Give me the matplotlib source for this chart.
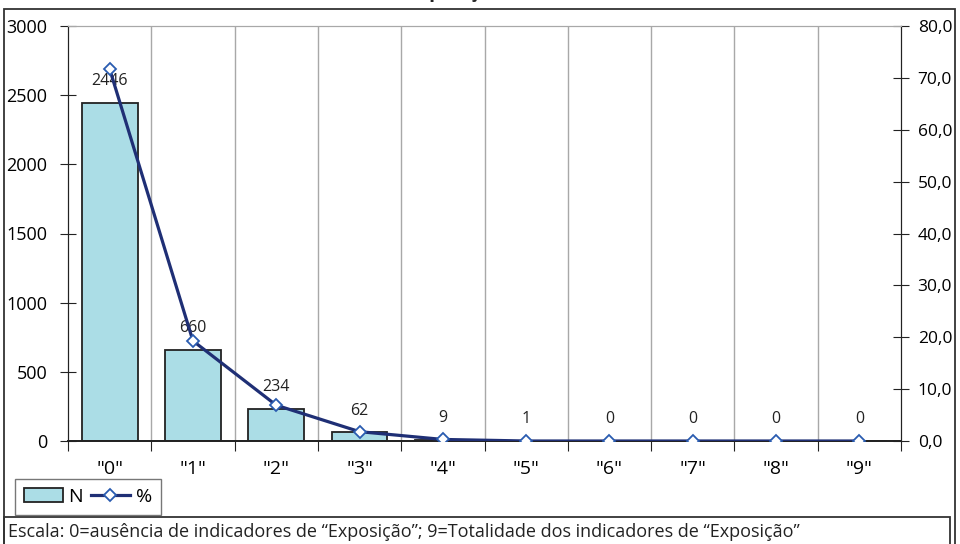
import matplotlib.pyplot as plt
import matplotlib.patches as patches
from matplotlib.lines import Line2D
import numpy as np

plt.rcParams['font.family'] = ['Open Sans', 'DejaVu Sans']

# ---- data ----
categories = ['"0"', '"1"', '"2"', '"3"', '"4"', '"5"', '"6"', '"7"', '"8"', '"9"']
counts = [2446, 660, 234, 62, 9, 1, 0, 0, 0, 0]
percent = [71.7, 19.3, 6.9, 1.8, 0.3, 0.0, 0.0, 0.0, 0.0, 0.0]
left_ticks = [0, 500, 1000, 1500, 2000, 2500, 3000]
right_ticks = [0, 10, 20, 30, 40, 50, 60, 70, 80]
footnote = 'Escala: 0=ausência de indicadores de “Exposição”; 9=Totalidade dos indicadores de “Exposição”'

W, H = 960, 544
fig = plt.figure(figsize=(W / 100, H / 100), dpi=100)
ax = fig.add_axes([68 / W, 1 - 441 / H, (901 - 68) / W, (441 - 26) / H])
ax2 = ax.twinx()

x = np.arange(len(categories))
bar_col = '#ABDDE6'
line_col = '#1F2F75'
mark_col = '#2A5CB0'

ax.bar(x, counts, width=0.67, color=bar_col, edgecolor='#222222', linewidth=1.3, zorder=2)
for xi, c in zip(x, counts):
    ax.annotate(str(c), (xi, c), xytext=(0, 10), textcoords='offset points',
                ha='center', va='bottom', fontsize=11.5, color='#222222')

ax2.plot(x, percent, color=line_col, lw=2.3, marker='D', ms=6, mfc='white',
         mec=mark_col, mew=1.3, zorder=3)

ax.set_xlim(-0.5, 9.5)
ax.set_ylim(0, 3000)
ax2.set_ylim(0, 80)
ax.set_yticks(left_ticks)
ax.set_yticklabels([str(t) for t in left_ticks], fontsize=13)
ax2.set_yticks(right_ticks)
ax2.set_yticklabels([('%.1f' % t).replace('.', ',') for t in right_ticks], fontsize=12.5)

# category boundaries as ticks + grid, labels on centers
ax.set_xticks(np.arange(-0.5, 10, 1))
ax.set_xticklabels([])
ax.set_xticks(x, minor=True)
ax.set_xticklabels(categories, minor=True, fontsize=14)
ax.tick_params(axis='x', which='major', direction='out', length=7, color='#222222')
ax.tick_params(axis='x', which='minor', length=0, pad=14)
ax.tick_params(axis='y', direction='inout', length=12, color='#222222', pad=9)
ax2.tick_params(axis='y', direction='inout', length=12, color='#222222', pad=6)
for b in np.arange(0.5, 9.5, 1):
    ax.axvline(b, color='#A8A8A8', lw=1, zorder=0)

for a in (ax, ax2):
    a.spines['top'].set_color('#A8A8A8')
    a.spines['left'].set_color('#222222')
    a.spines['right'].set_color('#222222')
    a.spines['bottom'].set_color('#222222')
    a.spines['bottom'].set_linewidth(1.3)

# title (cut off at the top in the reference)
fig.text(455 / W, 1 + 3 / H, 'Exposição', ha='center', va='baseline',
         fontsize=14, fontweight='bold', color='#222222')

# outer frame
fig.add_artist(patches.Rectangle((4 / W, -0.05), (955 - 4) / W, 1 - 9 / H + 0.05,
                                 transform=fig.transFigure, fill=False,
                                 edgecolor='#333333', lw=1.3, clip_on=False))

# legend
handles = [patches.Patch(facecolor=bar_col, edgecolor='#222222', lw=1.3),
           Line2D([], [], color=line_col, lw=2.3, marker='D', ms=6, mfc='white',
                  mec=mark_col, mew=1.3)]
leg = fig.legend(handles, ['N', '%'], loc='upper left',
                 bbox_to_anchor=(15 / W, 1 - 479 / H), ncol=2, fontsize=14,
                 frameon=True, fancybox=False, edgecolor='#555555',
                 handlelength=2.0, handletextpad=0.3, columnspacing=0.4,
                 borderpad=0.45, borderaxespad=0)
leg.get_frame().set_linewidth(1.0)

# footnote box
fig.add_artist(patches.Rectangle((4 / W, -0.05), (950 - 4) / W, 1 - 517 / H + 0.05,
                                 transform=fig.transFigure, fill=False,
                                 edgecolor='#333333', lw=1.3, clip_on=False))
fig.text(8 / W, 1 - 532 / H, footnote, ha='left', va='center', fontsize=13, color='#222222')

fig.savefig('out.png', dpi=100)
